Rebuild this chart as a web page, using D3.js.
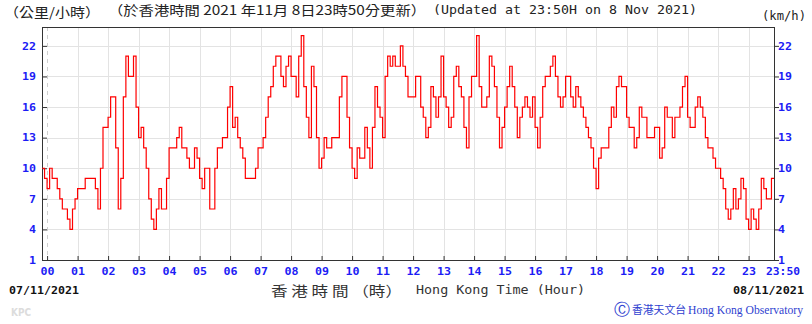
<!DOCTYPE html>
<html>
<head>
<meta charset="utf-8">
<script src="https://cdn.jsdelivr.net/npm/d3@7"></script>
<style>
body { margin: 0; background: #fff; }
</style>
</head>
<body>
<div id="chart"></div>
<script>
// 10-min mean wind speed (km/h), one reading every 5 minutes,
// from 23:50 on 07/11/2021 to 23:50 on 08/11/2021
var speedsNight = [
    10, 9,                                              // 23:50, 23:55 (prev day)
    8, 10, 9, 9, 8, 7, 6, 6, 5, 4, 6, 7,                // 00
    8, 8, 8, 9, 9, 9, 9, 8, 6, 10, 14, 14,              // 01
    15, 17, 17, 12, 6, 9, 17, 21, 19, 19, 21, 16,       // 02
    13, 14, 12, 10, 7, 5, 4, 6, 8, 6, 6, 9,             // 03
    12, 12, 12, 13, 14, 12, 12, 11, 10, 10, 12, 11,     // 04
    9, 8, 10, 10, 6, 6, 10, 12, 12, 13, 13, 16          // 05
];
var speedsMorning = [
    18, 14, 15, 13, 12, 11, 9, 9, 9, 9, 10, 12,         // 06
    12, 13, 15, 17, 18, 20, 21, 21, 19, 18, 20, 21,     // 07
    19, 19, 17, 21, 23, 18, 15, 13, 20, 18, 13, 10,     // 08
    11, 13, 12, 12, 13, 13, 13, 17, 19, 19, 15, 12,     // 09
    10, 9, 12, 11, 11, 14, 12, 10, 14, 18, 16, 15,      // 10
    13, 19, 21, 20, 21, 20, 20, 22, 20, 19, 17, 17      // 11
];
var speedsAfternoon = [
    17, 19, 19, 16, 15, 13, 14, 18, 17, 15, 17, 21,     // 12
    17, 16, 14, 15, 19, 20, 18, 17, 14, 12, 17, 19,     // 13
    19, 23, 18, 16, 16, 17, 21, 20, 18, 15, 12, 14,     // 14
    16, 18, 20, 18, 16, 13, 15, 16, 17, 16, 15, 17,     // 15
    14, 12, 15, 18, 19, 19, 20, 21, 19, 17, 16, 17,     // 16
    19, 19, 17, 16, 18, 17, 16, 15, 14, 13, 12, 10      // 17
];
var speedsEvening = [
    8, 11, 12, 12, 12, 14, 16, 15, 18, 19, 18, 18,      // 18
    15, 14, 14, 12, 13, 16, 15, 15, 13, 13, 13, 14,     // 19
    14, 11, 12, 16, 15, 15, 13, 15, 15, 16, 18, 19,     // 20
    15, 14, 14, 16, 17, 16, 15, 13, 12, 12, 11, 10,     // 21
    10, 9, 8, 6, 5, 6, 8, 6, 7, 9, 8, 5,                // 22
    4, 6, 5, 4, 6, 9, 8, 7, 7, 9, 9                     // 23 (to 23:50)
];
var startMinute = -10;   // 23:50 of previous day
var stepMinutes = 5;

var hourLabels = ["00","01","02","03","04","05","06","07","08","09","10","11",
                  "12","13","14","15","16","17","18","19","20","21","22","23"];
var endLabel = "23:50";
var yTicks = [1, 4, 7, 10, 13, 16, 19, 22];

var speeds = [].concat(speedsNight, speedsMorning, speedsAfternoon, speedsEvening);
var data = speeds.map((v, i) => ({t: startMinute + i * stepMinutes, v: v}));

var svgWidth = 812, svgHeight = 324;
var plot = {left: 42, right: 774, top: 27, bottom: 260};
var blue = "#1c1cf5";
var mono = "'DejaVu Sans Mono', monospace";
var cjk = "'Noto Sans CJK TC', sans-serif";

var svg = d3.select("#chart").append("svg")
    .attr("width", svgWidth).attr("height", svgHeight)
    .style("font-family", mono);

var x = d3.scaleLinear().domain([-10, 1430]).range([plot.left, plot.right]);
var y = d3.scaleLinear().domain([1, 23.85]).range([plot.bottom, plot.top]);

var hourMinutes = hourLabels.map((h, i) => i * 60);

// grid
var grid = svg.append("g").attr("stroke", "#e3e3e3").attr("stroke-width", 1);
grid.selectAll(".hgrid").data(yTicks.slice(1)).enter().append("line")
    .attr("x1", plot.left).attr("x2", plot.right)
    .attr("y1", d => Math.round(y(d)) + 0.5).attr("y2", d => Math.round(y(d)) + 0.5);
grid.selectAll(".vgrid").data(hourMinutes).enter().append("line")
    .attr("x1", d => Math.round(x(d)) + 0.5).attr("x2", d => Math.round(x(d)) + 0.5)
    .attr("y1", plot.top).attr("y2", plot.bottom)
    .attr("stroke-dasharray", d => d === 0 ? "4,4" : null)
    .attr("stroke", d => d === 0 ? "#cfcfcf" : null);

// axes
var leftAxis = d3.axisLeft(y).tickValues(yTicks).tickSize(-5).tickPadding(6);
var rightAxis = d3.axisRight(y).tickValues(yTicks).tickSize(5).tickPadding(-1);
var bottomAxis = d3.axisBottom(x).tickValues(hourMinutes).tickSize(-4).tickPadding(8)
    .tickFormat((d, i) => hourLabels[i]);

function styleAxis(g) {
    g.select(".domain").remove();
    g.selectAll("line").attr("stroke", "#333");
    g.selectAll("text")
        .attr("fill", blue).attr("font-family", mono).attr("font-weight", "bold")
        .attr("font-size", 10)
        .attr("textLength", function() { return this.textContent.length * 7; })
        .attr("lengthAdjust", "spacingAndGlyphs");
}

svg.append("g").attr("transform", `translate(${plot.left},0)`).call(leftAxis).call(styleAxis);
svg.append("g").attr("transform", `translate(${plot.right},0)`).call(rightAxis).call(styleAxis);
svg.append("g").attr("transform", `translate(0,${plot.bottom})`).call(bottomAxis).call(styleAxis);

svg.append("text").attr("x", 766).attr("y", 275)
    .attr("fill", blue).attr("font-weight", "bold").attr("font-size", 10)
    .attr("textLength", 34).attr("lengthAdjust", "spacingAndGlyphs")
    .text(endLabel);

// frame
svg.append("rect")
    .attr("x", plot.left + 0.5).attr("y", plot.top + 0.5)
    .attr("width", plot.right - plot.left).attr("height", plot.bottom - plot.top)
    .attr("fill", "none").attr("stroke", "#333").attr("stroke-width", 1);

// wind speed line
var line = d3.line().x(d => x(d.t)).y(d => y(d.v)).curve(d3.curveStepAfter);
svg.append("path").datum(data)
    .attr("d", line)
    .attr("fill", "none").attr("stroke", "#ff0000").attr("stroke-width", 1.2);

// titles
svg.append("text").attr("x", 4).attr("y", 17)
    .attr("font-family", cjk).attr("font-size", 13).attr("fill", "#222")
    .attr("textLength", 96).attr("lengthAdjust", "spacingAndGlyphs")
    .text("（公里/小時）");
svg.append("text").attr("x", 108).attr("y", 14.5)
    .attr("font-family", cjk).attr("font-size", 13).attr("fill", "#222")
    .attr("textLength", 318).attr("lengthAdjust", "spacingAndGlyphs")
    .text("（於香港時間 2021 年11月 8日23時50分更新）");
svg.append("text").attr("x", 433).attr("y", 13.5)
    .attr("font-size", 13).attr("fill", "#222")
    .attr("textLength", 264).attr("lengthAdjust", "spacingAndGlyphs")
    .text("(Updated at 23:50H on 8 Nov 2021)");
svg.append("text").attr("x", 762).attr("y", 20)
    .attr("font-size", 13).attr("fill", "#222")
    .attr("textLength", 44).attr("lengthAdjust", "spacingAndGlyphs")
    .text("(km/h)");

// dates
svg.append("text").attr("x", 9).attr("y", 294)
    .attr("font-size", 11).attr("font-weight", "bold").attr("fill", "#111")
    .attr("textLength", 70).attr("lengthAdjust", "spacingAndGlyphs")
    .text("07/11/2021");
svg.append("text").attr("x", 733).attr("y", 294)
    .attr("font-size", 11).attr("font-weight", "bold").attr("fill", "#111")
    .attr("textLength", 71).attr("lengthAdjust", "spacingAndGlyphs")
    .text("08/11/2021");

// x axis title
svg.append("text").attr("x", 271).attr("y", 296)
    .attr("font-family", cjk).attr("font-size", 14).attr("fill", "#333")
    .attr("textLength", 131).attr("lengthAdjust", "spacingAndGlyphs")
    .text("香 港 時 間 （時）");
svg.append("text").attr("x", 416).attr("y", 294)
    .attr("font-size", 13).attr("fill", "#333")
    .attr("textLength", 169).attr("lengthAdjust", "spacingAndGlyphs")
    .text("Hong Kong Time (Hour)");

// credits
svg.append("text").attr("x", 11).attr("y", 316)
    .attr("font-family", "'DejaVu Sans', sans-serif").attr("font-size", 11)
    .attr("font-weight", "bold").attr("fill", "#dcdcdc")
    .attr("textLength", 20).attr("lengthAdjust", "spacingAndGlyphs")
    .text("KPC");
svg.append("text").attr("x", 614).attr("y", 315)
    .attr("font-family", "'DejaVu Serif', serif").attr("font-size", 16).attr("fill", "#2f3fd0")
    .text("Ⓒ");
svg.append("text").attr("x", 632).attr("y", 314)
    .attr("font-family", cjk).attr("font-size", 11).attr("fill", "#2f3fd0")
    .attr("textLength", 54).attr("lengthAdjust", "spacingAndGlyphs")
    .text("香港天文台");
svg.append("text").attr("x", 688).attr("y", 314)
    .attr("font-family", "'Liberation Serif', serif").attr("font-size", 12.5).attr("fill", "#2f3fd0")
    .attr("textLength", 115).attr("lengthAdjust", "spacingAndGlyphs")
    .text("Hong Kong Observatory");
</script>
</body>
</html>
